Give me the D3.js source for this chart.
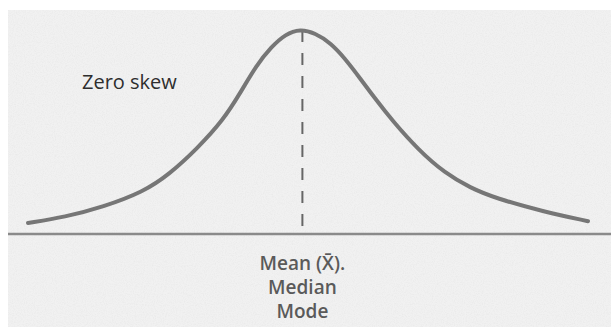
<!DOCTYPE html>
<html>
<head>
<meta charset="utf-8">
<script src="https://cdn.jsdelivr.net/npm/d3@7"></script>
<style>
  html, body { margin: 0; padding: 0; background: #fff; }
  svg { display: block; }
</style>
</head>
<body>
<svg id="chart" width="611" height="327"></svg>
<script>
// Symmetric bell curve: position in standard units and relative frequency
const zValues = [-3.4, -2.94, -2.46, -1.96, -1.63, -1.29, -0.96, -0.74, -0.55, -0.36, -0.18, 0,
                 0.19, 0.38, 0.56, 0.75, 0.95, 1.15, 1.48, 1.81, 2.13, 2.44, 3.06, 3.6];
const density = [0.0215, 0.033, 0.053, 0.082, 0.117, 0.166, 0.222, 0.277, 0.328, 0.365, 0.390, 0.400,
                 0.392, 0.373, 0.343, 0.304, 0.262, 0.222, 0.164, 0.119, 0.090, 0.070, 0.043, 0.025];
const centre = 0.03;             // where mean, median and mode coincide
const centreLabels = ["Mean (X\u0304).", "Median", "Mode"];
const curveLabel = "Zero skew";

const svg = d3.select("#chart");
const W = 611, H = 327;

const x = d3.scaleLinear().domain([-3.65, 3.9]).range([8, 612]);
const y = d3.scaleLinear().domain([0, 0.4]).range([234, 29]);

// paper texture
const defs = svg.append("defs");
const grain = defs.append("filter").attr("id", "grain").attr("x", 0).attr("y", 0).attr("width", 1).attr("height", 1);
grain.append("feTurbulence").attr("type", "fractalNoise").attr("baseFrequency", 0.9).attr("numOctaves", 2).attr("seed", 4).attr("result", "n");
grain.append("feColorMatrix").attr("in", "n").attr("type", "matrix")
  .attr("values", "0 0 0 0 0.55  0 0 0 0 0.55  0 0 0 0 0.55  0 0 0 -0.9 0.55").attr("result", "g");
grain.append("feComposite").attr("in", "g").attr("in2", "SourceGraphic").attr("operator", "in");

svg.append("rect").attr("x", 0).attr("y", 0).attr("width", W).attr("height", H).attr("fill", "#ffffff");
svg.append("rect").attr("x", 8).attr("y", 10).attr("width", W - 8).attr("height", H - 10).attr("fill", "#f1f1f1");
svg.append("rect").attr("x", 8).attr("y", 10).attr("width", W - 8).attr("height", H - 10)
  .attr("fill", "#f1f1f1").attr("filter", "url(#grain)").attr("opacity", 0.35);

// baseline
svg.append("line")
  .attr("x1", 8).attr("x2", W)
  .attr("y1", y(0)).attr("y2", y(0))
  .attr("stroke", "#8a8a8a").attr("stroke-width", 2.5);

// centre line
svg.append("line")
  .attr("x1", x(centre)).attr("x2", x(centre))
  .attr("y1", y(0.4) + 1).attr("y2", y(0))
  .attr("stroke", "#666").attr("stroke-width", 2)
  .attr("stroke-dasharray", "12,11");

// curve
const pts = zValues.map((z, i) => [z, density[i]]);
const line = d3.line().x(d => x(d[0])).y(d => y(d[1])).curve(d3.curveBasis);
svg.append("path")
  .attr("d", line(pts))
  .attr("fill", "none")
  .attr("stroke", "#767676")
  .attr("stroke-width", 4)
  .attr("stroke-linecap", "round");

// labels
svg.append("text")
  .attr("x", 82).attr("y", 89)
  .attr("font-family", "'Open Sans', sans-serif").attr("font-size", 20)
  .attr("fill", "#2e2e2e")
  .text(curveLabel);

svg.selectAll("text.centre")
  .data(centreLabels)
  .join("text")
  .attr("class", "centre")
  .attr("x", x(centre))
  .attr("y", (d, i) => 270 + i * 24)
  .attr("text-anchor", "middle")
  .attr("font-family", "'Open Sans', sans-serif").attr("font-size", 19).attr("font-weight", 600)
  .attr("fill", "#5a5a5a")
  .text(d => d);
</script>
</body>
</html>
